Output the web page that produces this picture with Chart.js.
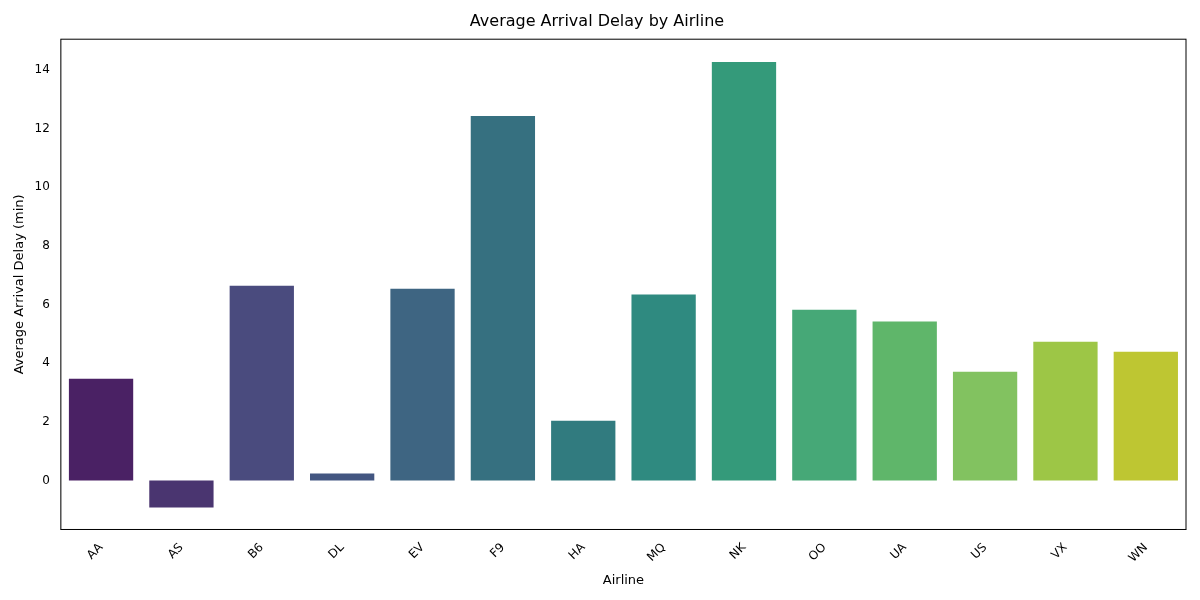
<!DOCTYPE html>
<html>
<head>
<meta charset="utf-8" />
<script src="https://cdn.jsdelivr.net/npm/chart.js@4"></script>
<style>body{margin:0;background:#fff}</style>
</head>
<body>
<canvas id="joonis" width="1200" height="600"></canvas>
<script>
const airlines = ["AA","AS","B6","DL","EV","F9","HA","MQ","NK","OO","UA","US","VX","WN"];
const delays = [3.47,-0.92,6.64,0.24,6.54,12.43,2.04,6.34,14.27,5.82,5.42,3.71,4.73,4.39];
const colours = ["#4a2164","#4a3570","#4a4b7e","#435681","#3e6582","#367080","#317b7f",
                 "#2f8a80","#349a7a","#46a877","#5fb66a","#82c260","#9dc646","#bec632"];
const yTicks = [0,2,4,6,8,10,12,14];

Chart.defaults.font.family = "DejaVu Sans";
Chart.defaults.color = "#000";

// box round the plot area, like matplotlib
const kast = {
  id: "kast",
  afterDraw(c) {
    const a = c.chartArea, g = c.ctx;
    g.save(); g.strokeStyle = "#000"; g.lineWidth = 1;
    g.strokeRect(a.left, a.top, a.right - a.left, a.bottom - a.top);
    g.restore();
  }
};

new Chart(document.getElementById("joonis"), {
  type: "bar",
  data: {
    labels: airlines,
    datasets: [{ data: delays, backgroundColor: colours, categoryPercentage: 1, barPercentage: 0.8 }]
  },
  options: {
    responsive: false, animation: false, devicePixelRatio: 1,
    layout: { padding: { left: 8, right: 14, top: 4, bottom: 8 } },
    plugins: {
      legend: { display: false },
      title: { display: true, text: "Average Arrival Delay by Airline", font: { size: 16, weight: "normal" }, padding: { top: 8, bottom: 8 } }
    },
    scales: {
      x: {
        grid: { display: false },
        ticks: { maxRotation: 45, minRotation: 45, font: { size: 12 } },
        title: { display: true, text: "Airline", font: { size: 13 } }
      },
      y: {
        min: -1.67, max: 15.05,
        grid: { display: false },
        afterBuildTicks: ax => { ax.ticks = yTicks.map(v => ({ value: v })); },
        ticks: { font: { size: 12 } },
        title: { display: true, text: "Average Arrival Delay (min)", font: { size: 13 } }
      }
    }
  },
  plugins: [kast]
});
</script>
</body>
</html>
